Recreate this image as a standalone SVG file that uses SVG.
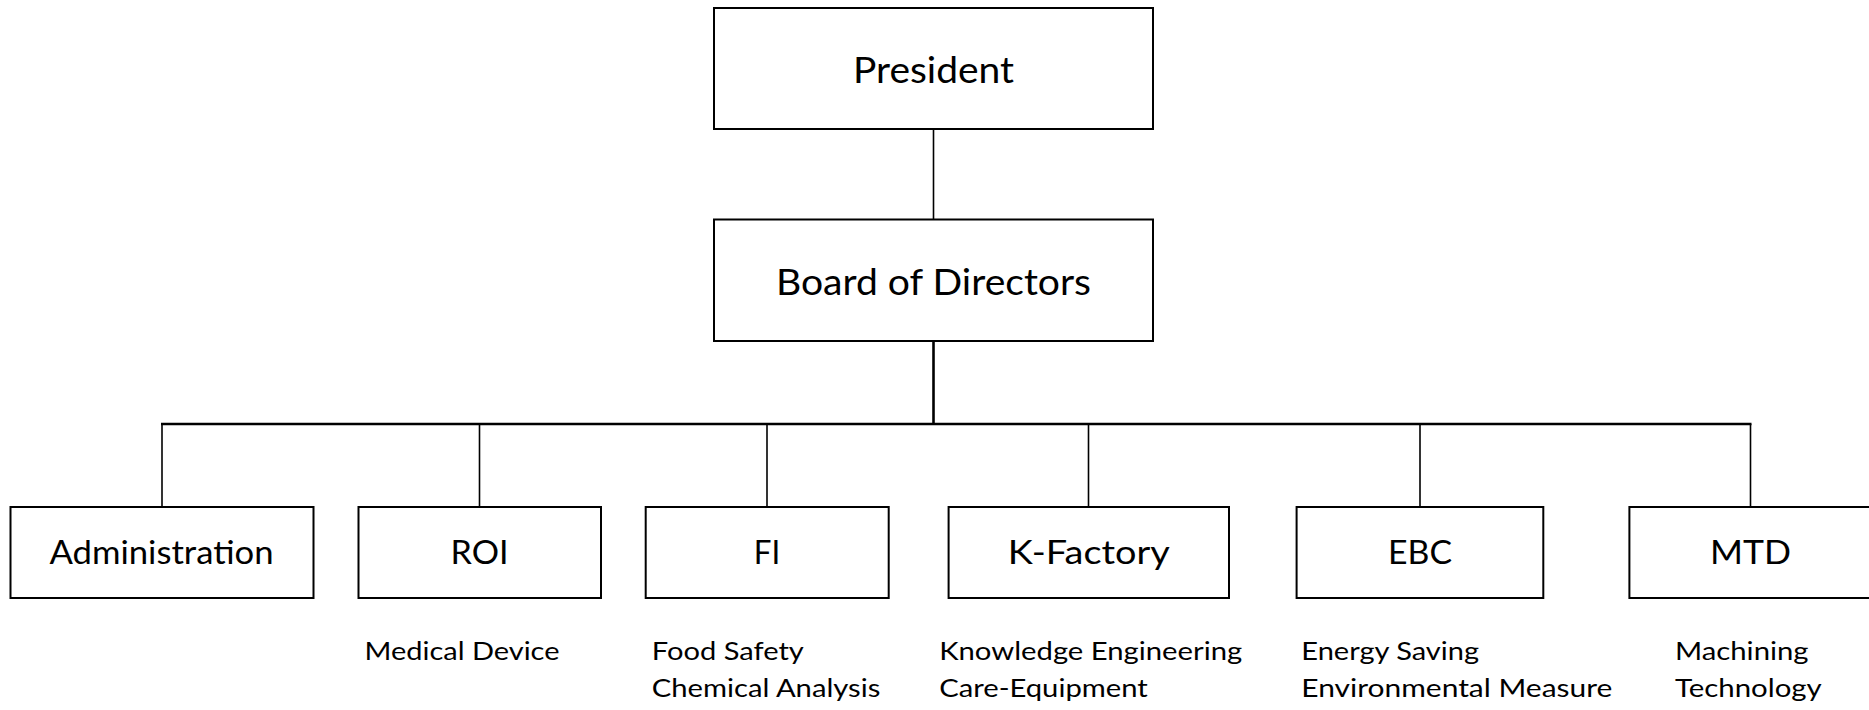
<svg xmlns="http://www.w3.org/2000/svg" width="1869" height="710" viewBox="0 0 1869 710">
<style>
.box{fill:#fff;stroke:#000;stroke-width:2}
.lbl{font-family:Lato,"Open Sans","Liberation Sans",sans-serif;fill:#000;text-anchor:middle}
.top{font-size:36px}
.mid{font-size:32px}
.sub{font-family:Lato,"Open Sans","Liberation Sans",sans-serif;fill:#000;font-size:25.5px}
.c{stroke:#000;stroke-width:1.6;fill:none}
.cb{stroke:#000;stroke-width:2.6;fill:none}
</style>
<rect width="1869" height="710" fill="#fff"/>
<g id="connectors">
<line class="c" x1="933.5" y1="129" x2="933.5" y2="219"/>
<line class="cb" x1="933.5" y1="341" x2="933.5" y2="424"/>
<line class="cb" x1="161" y1="424" x2="1751.5" y2="424"/>
<line class="c" x1="162" y1="424" x2="162" y2="507"/>
<line class="c" x1="479.5" y1="424" x2="479.5" y2="507"/>
<line class="c" x1="767" y1="424" x2="767" y2="507"/>
<line class="c" x1="1088.5" y1="424" x2="1088.5" y2="507"/>
<line class="c" x1="1420" y1="424" x2="1420" y2="507"/>
<line class="c" x1="1750.5" y1="424" x2="1750.5" y2="507"/>
</g>
<g id="president">
<rect class="box" x="714" y="8" width="439" height="121"/>
<text class="lbl top" x="933.5" y="83" textLength="161" lengthAdjust="spacingAndGlyphs">President</text>
</g>
<g id="board">
<rect class="box" x="714" y="219.5" width="439" height="121.5"/>
<text class="lbl top" x="933.5" y="295" textLength="315" lengthAdjust="spacingAndGlyphs">Board of Directors</text>
</g>
<g id="administration">
<rect class="box" x="10.5" y="507" width="303" height="91"/>
<text class="lbl mid" x="161.5" y="564" textLength="224" lengthAdjust="spacingAndGlyphs">Administration</text>
</g>
<g id="roi">
<rect class="box" x="358.5" y="507" width="242.5" height="91"/>
<text class="lbl mid" x="479.5" y="564" textLength="58" lengthAdjust="spacingAndGlyphs">ROI</text>
<text class="sub" x="364.5" y="660" textLength="195" lengthAdjust="spacingAndGlyphs">Medical Device</text>
</g>
<g id="fi">
<rect class="box" x="645.7" y="507" width="243" height="91"/>
<text class="lbl mid" x="767" y="564" textLength="26.5" lengthAdjust="spacingAndGlyphs">FI</text>
<text class="sub" x="651.8" y="660" textLength="152" lengthAdjust="spacingAndGlyphs">Food Safety</text>
<text class="sub" x="651.8" y="697" textLength="228.6" lengthAdjust="spacingAndGlyphs">Chemical Analysis</text>
</g>
<g id="kfactory">
<rect class="box" x="948.6" y="507" width="280.4" height="91"/>
<text class="lbl mid" x="1088.8" y="564" textLength="162" lengthAdjust="spacingAndGlyphs">K-Factory</text>
<text class="sub" x="939.2" y="660" textLength="303" lengthAdjust="spacingAndGlyphs">Knowledge Engineering</text>
<text class="sub" x="939.2" y="697" textLength="208.6" lengthAdjust="spacingAndGlyphs">Care-Equipment</text>
</g>
<g id="ebc">
<rect class="box" x="1296.6" y="507" width="246.7" height="91"/>
<text class="lbl mid" x="1420" y="564" textLength="64" lengthAdjust="spacingAndGlyphs">EBC</text>
<text class="sub" x="1301.3" y="660" textLength="177.7" lengthAdjust="spacingAndGlyphs">Energy Saving</text>
<text class="sub" x="1301.3" y="697" textLength="311" lengthAdjust="spacingAndGlyphs">Environmental Measure</text>
</g>
<g id="mtd">
<rect class="box" x="1629.4" y="507" width="246" height="91"/>
<text class="lbl mid" x="1750.5" y="564" textLength="81" lengthAdjust="spacingAndGlyphs">MTD</text>
<text class="sub" x="1675" y="660" textLength="133.6" lengthAdjust="spacingAndGlyphs">Machining</text>
<text class="sub" x="1675" y="697" textLength="146.7" lengthAdjust="spacingAndGlyphs">Technology</text>
</g>
</svg>
